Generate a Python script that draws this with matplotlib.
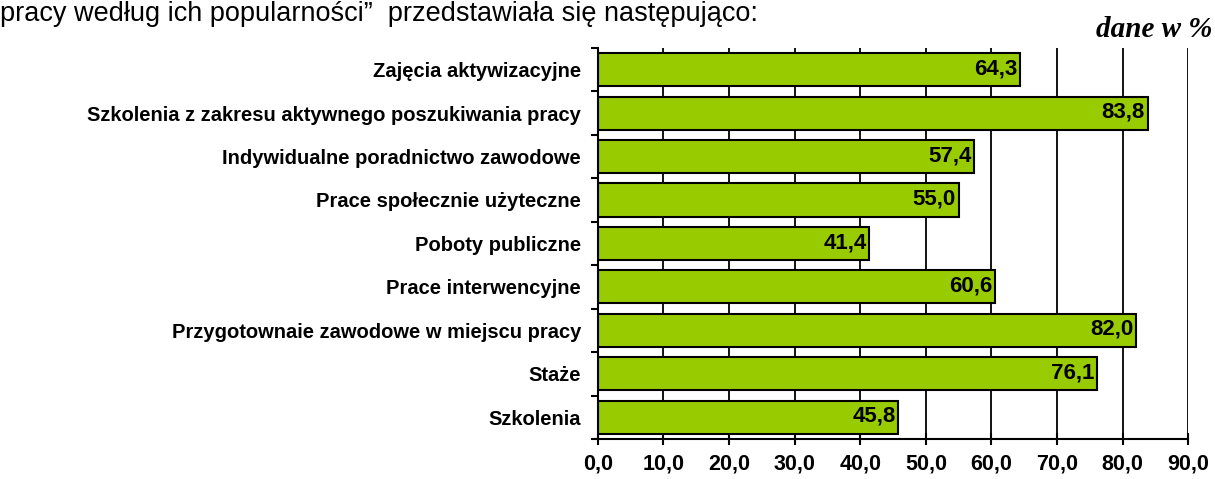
import numpy as np
import matplotlib.pyplot as plt

# ── data ──────────────────────────────────────────────────────────────────────
categories = [
    "Zajęcia aktywizacyjne",
    "Szkolenia z zakresu aktywnego poszukiwania pracy",
    "Indywidualne poradnictwo zawodowe",
    "Prace społecznie użyteczne",
    "Poboty publiczne",
    "Prace interwencyjne",
    "Przygotownaie zawodowe w miejscu pracy",
    "Staże",
    "Szkolenia",
]
values = [64.3, 83.8, 57.4, 55.0, 41.4, 60.6, 82.0, 76.1, 45.8]
xticks = [0, 10, 20, 30, 40, 50, 60, 70, 80, 90]

plt.rcParams['font.family'] = ['Liberation Sans', 'DejaVu Sans']

fig = plt.figure(figsize=(12.15, 4.79), dpi=100)
ax = fig.add_axes([0.492, 0.0835, 0.486, 0.8165])

n = len(categories)
ypos = np.arange(n)[::-1] + 0.5
ax.barh(ypos, values, height=0.76, color="#99CC00", edgecolor="black",
        linewidth=1.5, zorder=3)

for y, v in zip(ypos, values):
    ax.text(v - 0.4, y + 0.02, f"{v:.1f}".replace(".", ","), ha="right", va="center",
            fontsize=16, fontweight="bold", zorder=4)

ax.set_xlim(0, 90)
ax.set_ylim(0, n)
ax.set_xticks(xticks)
ax.set_xticklabels([f"{t:.1f}".replace(".", ",") for t in xticks],
                   fontsize=15.5, fontweight="bold")
ax.tick_params(axis="x", direction="inout", length=9, width=1.5, pad=6)
ax.grid(axis="x", color="black", linewidth=1.3, zorder=0)

ax.set_yticks(np.arange(n + 1))
ax.set_yticklabels([])
ax.tick_params(axis="y", which="major", direction="out", length=5, width=1.5)
ax.set_yticks(ypos, minor=True)
ax.set_yticklabels(categories, minor=True, fontsize=14.5, fontweight="bold")
ax.tick_params(axis="y", which="minor", length=0, pad=12)

for s in ["top", "right"]:
    ax.spines[s].set_visible(False)
for s in ["left", "bottom"]:
    ax.spines[s].set_linewidth(1.5)
    ax.spines[s].set_zorder(5)

fig.text(0.0, 1 - 21 / 479, "pracy według ich popularności”  przedstawiała się następująco:",
         fontsize=19.5, ha="left", va="baseline")
fig.text(0.998, 1 - 37 / 479, "dane w %", family="Liberation Serif",
         style="italic", fontweight="bold", fontsize=21, ha="right", va="baseline")

plt.savefig("out.png", dpi=100)
